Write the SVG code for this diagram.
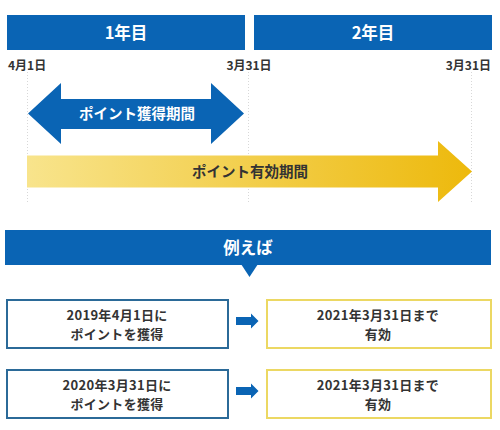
<svg xmlns="http://www.w3.org/2000/svg" width="500" height="430" viewBox="0 0 500 430">
<style>
text{font-family:"Noto Sans CJK JP","Noto Sans",sans-serif;font-weight:bold;text-anchor:middle}
.bar{fill:#0a64b4}
.wt{fill:#fff;font-size:16.5px}
.at{fill:#fff;font-size:14.5px}
.dt{fill:#333;font-size:12px}
.bt{fill:#333;font-size:13px;letter-spacing:0.3px}
.guide{stroke:#d8d8d8;stroke-width:1;stroke-dasharray:1 2;fill:none}
.lbox{fill:#fff;stroke:#2b6a98;stroke-width:2}
.rbox{fill:#fff;stroke:#ecd863;stroke-width:2}
</style>
<defs>
<linearGradient id="yg" x1="0" x2="1" y1="0" y2="0">
<stop offset="0" stop-color="#f8e48c"/>
<stop offset="1" stop-color="#edb90c"/>
</linearGradient>
</defs>
<g id="guides">
<line class="guide" x1="27.5" y1="72" x2="27.5" y2="204"/>
<line class="guide" x1="248.5" y1="72" x2="248.5" y2="204"/>
<line class="guide" x1="471.5" y1="72" x2="471.5" y2="204"/>
</g>
<g id="year1">
<rect class="bar" x="7" y="15" width="238" height="35"/>
<text class="wt" x="126" y="39">1年目</text>
</g>
<g id="year2">
<rect class="bar" x="254" y="15" width="238" height="35"/>
<text class="wt" x="373" y="39">2年目</text>
</g>
<g id="dates">
<text class="dt" x="8" y="69.5" style="text-anchor:start">4月1日</text>
<text class="dt" x="249" y="69.5">3月31日</text>
<text class="dt" x="491" y="69.5" style="text-anchor:end">3月31日</text>
</g>
<g id="acquire">
<polygon class="bar" points="28,113.5 61,83 61,99 211,99 211,83 244,113.5 211,144 211,129 61,129 61,144"/>
<text class="at" x="137" y="119">ポイント獲得期間</text>
</g>
<g id="valid">
<polygon fill="url(#yg)" points="27,155.5 438,155.5 438,141 472,171.5 438,202 438,187.5 27,187.5"/>
<text x="250" y="177" style="fill:#333;font-size:14.5px">ポイント有効期間</text>
</g>
<g id="example">
<rect class="bar" x="5" y="230" width="486" height="35"/>
<polygon class="bar" points="241,264 258,264 249.5,277"/>
<text class="wt" x="248" y="253.5">例えば</text>
</g>
<g id="box1">
<rect class="lbox" x="7" y="300" width="221" height="48"/>
<text class="bt" x="117" y="320">2019年4月1日に</text>
<text class="bt" x="117" y="339">ポイントを獲得</text>
</g>
<g id="box2">
<rect class="rbox" x="267" y="300" width="224" height="48"/>
<text class="bt" x="378" y="320">2021年3月31日まで</text>
<text class="bt" x="378" y="339">有効</text>
</g>
<g id="box3">
<rect class="lbox" x="7" y="370" width="221" height="48"/>
<text class="bt" x="117" y="390">2020年3月31日に</text>
<text class="bt" x="117" y="409">ポイントを獲得</text>
</g>
<g id="box4">
<rect class="rbox" x="267" y="370" width="224" height="48"/>
<text class="bt" x="378" y="390">2021年3月31日まで</text>
<text class="bt" x="378" y="409">有効</text>
</g>
<g id="connectors">
<polygon class="bar" points="236,317 251,317 251,313.5 258.5,321 251,328.5 251,325 236,325"/>
<polygon class="bar" points="236,387 251,387 251,383.5 258.5,391 251,398.5 251,395 236,395"/>
</g>
</svg>
